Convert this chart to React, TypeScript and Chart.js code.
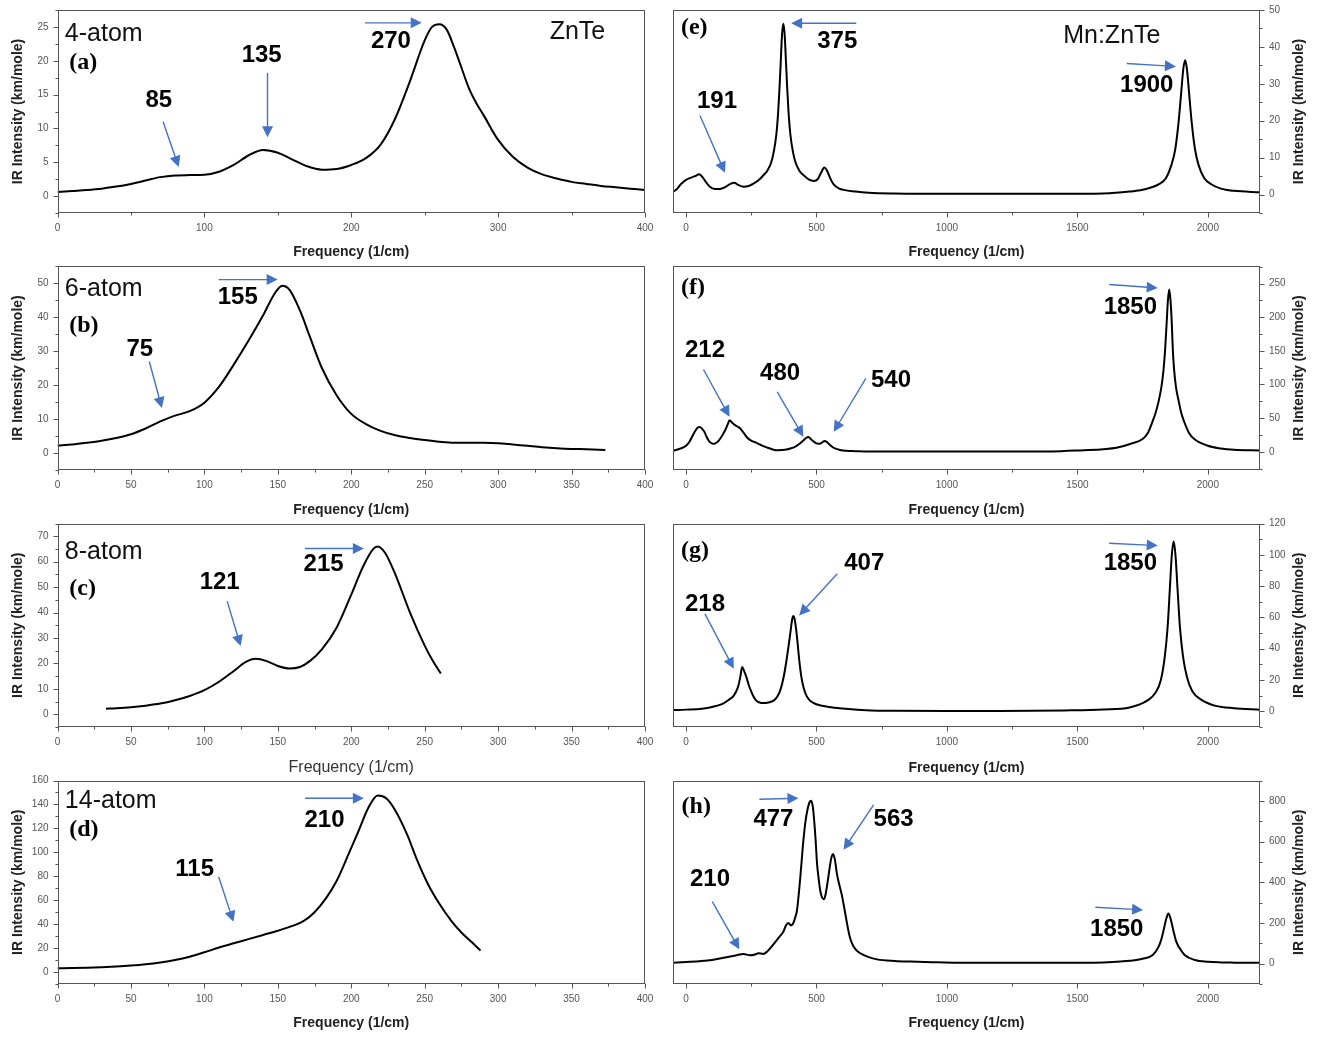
import { useEffect, useRef } from "react";
import { Chart, registerables } from "chart.js";

Chart.register(...registerables);

// ---------------- data (frequency in 1/cm, IR intensity in km/mole) ----------------
const freqA = [0, 10, 20, 30, 40, 50, 60, 70, 80, 90, 100, 110, 120, 130, 140, 150, 160, 170, 180, 190, 200, 210, 220, 230, 240, 250, 255, 260, 265, 270, 275, 280, 285, 290, 300, 310, 320, 330, 340, 350, 360, 370, 380, 390, 400];
const intA = [0.6, 0.75, 0.9, 1.1, 1.4, 1.8, 2.3, 2.8, 3.05, 3.1, 3.15, 3.6, 4.6, 6.0, 6.8, 6.4, 5.4, 4.4, 3.9, 4.0, 4.6, 5.6, 7.6, 11.5, 17, 23, 25, 25.4, 24.6, 22, 19, 16, 13.8, 12, 8.3, 5.8, 4.2, 3.2, 2.6, 2.1, 1.8, 1.5, 1.3, 1.1, 0.9];

const freqB = [0, 10, 20, 30, 40, 50, 60, 70, 80, 90, 100, 110, 120, 130, 140, 148, 153, 158, 165, 172, 180, 190, 200, 210, 220, 230, 240, 250, 260, 270, 280, 290, 300, 310, 320, 330, 340, 350, 360, 373];
const intB = [2.2, 2.5, 3.0, 3.6, 4.4, 5.5, 7.2, 9.3, 11.0, 12.3, 14.8, 19.5, 26, 33, 40.5, 47, 49.2, 48, 42, 34, 25, 17, 11.5, 8.5, 6.5, 5.2, 4.4, 3.8, 3.3, 3.0, 3.0, 3.0, 2.9, 2.5, 2.1, 1.7, 1.4, 1.2, 1.1, 0.9];

const freqC = [33, 40, 50, 60, 70, 80, 90, 100, 110, 120, 128, 135, 142, 150, 158, 165, 172, 180, 190, 200, 208, 215, 218, 223, 230, 240, 250, 255, 261];
const intC = [2.2, 2.4, 2.8, 3.4, 4.2, 5.5, 7.2, 9.5, 12.8, 17, 20.5, 21.8, 21, 19, 18, 18.6, 21, 25.5, 34, 47, 58, 65, 66, 63.5, 55, 40, 27, 21.5, 16];

const freqD = [0, 10, 20, 30, 40, 50, 60, 70, 80, 90, 100, 110, 120, 130, 140, 150, 160, 168, 175, 183, 190, 198, 205, 212, 218, 224, 230, 238, 245, 252, 260, 268, 275, 282, 288];
const intD = [3.2, 3.3, 3.6, 4.0, 4.6, 5.4, 6.5, 8.0, 10, 12.8, 16.5, 20.5, 24, 27.5, 31, 34.5, 38.5, 43, 50, 62, 76, 98, 118, 138, 147.5, 145, 135, 115, 93, 74, 57, 43, 33, 25, 18];

const freqE = [-50, -35, -20, 0, 20, 35, 50, 60, 75, 90, 110, 130, 150, 170, 185, 200, 220, 240, 260, 280, 300, 311, 326, 336, 346, 353, 358, 363, 368, 373, 378, 383, 388, 393, 400, 410, 420, 435, 453, 470, 490, 505, 518, 530, 540, 552, 565, 585, 610, 650, 700, 800, 1000, 1200, 1400, 1600, 1700, 1750, 1813, 1840, 1860, 1875, 1888, 1898, 1906, 1913, 1920, 1928, 1938, 1951, 1965, 1986, 2013, 2050, 2100, 2200];
const intE = [0.7, 1.5, 2.8, 4.0, 4.6, 5.0, 5.5, 5.0, 3.5, 2.2, 1.5, 1.5, 2.0, 2.9, 3.2, 2.6, 2.1, 2.3, 3.0, 4.0, 5.5, 6.4, 8.6, 11.5, 16.2, 22.2, 28.5, 36, 43.4, 46.3, 43.4, 36, 28.5, 22.2, 16.2, 11.5, 8.6, 6.4, 5.1, 4.1, 3.7, 4.2, 6, 7.3, 6.5, 4.5, 2.8, 1.7, 1.2, 0.8, 0.5, 0.3, 0.2, 0.2, 0.2, 0.3, 0.8, 1.3, 2.8, 4.5, 7.9, 12.2, 19.7, 27.7, 34, 36.4, 34, 27.7, 19.7, 12.2, 7.9, 4.5, 2.8, 1.6, 1.0, 0.6];

const freqF = [-50, -35, -20, 0, 13, 25, 37, 45, 53, 62, 70, 78, 86, 95, 107, 116, 126, 138, 150, 160, 167, 175, 183, 195, 207, 215, 223, 235, 248, 260, 272, 288, 304, 325, 345, 365, 385, 400, 417, 435, 450, 460, 469, 478, 490, 500, 510, 520, 531, 540, 547, 560, 571, 590, 612, 650, 700, 900, 1200, 1400, 1525, 1600, 1650, 1705, 1750, 1770, 1788, 1800, 1812, 1822, 1830, 1836, 1842, 1847, 1852, 1857, 1862, 1866, 1871, 1878, 1888, 1898, 1909, 1928, 1948, 2000, 2050, 2100, 2200];
const intF = [1.5, 3, 5, 9, 15, 24, 32, 36, 37, 34, 30, 23, 17, 13.5, 12, 13.5, 17, 24, 32, 41, 47, 44, 41, 38, 35, 31, 27, 21, 17, 15, 13, 10, 7.4, 4.5, 2.5, 2.8, 3.5, 5, 7.4, 12, 17, 20.5, 22, 19, 15, 12.5, 12, 13.5, 16, 14.5, 12, 7.5, 5, 2.8, 1.5, 1, 0.5, 0.3, 0.3, 0.5, 2.5, 4, 6, 12, 19, 28, 45, 58, 76, 96, 121, 150, 190, 225, 241, 225, 190, 150, 121, 96, 76, 58, 45, 28, 19, 9, 5, 3, 2];

const freqG = [-50, 0, 61, 100, 142, 165, 183, 199, 208, 215, 222, 231, 240, 248, 260, 272, 288, 304, 320, 337, 350, 361, 373, 385, 394, 401, 407, 411, 416, 421, 428, 434, 442, 450, 460, 474, 500, 547, 600, 709, 800, 1000, 1200, 1450, 1600, 1700, 1769, 1800, 1820, 1835, 1846, 1855, 1862, 1869, 1876, 1884, 1893, 1905, 1920, 1940, 1979, 2030, 2100, 2200];
const intG = [0.8, 1.1, 1.7, 2.8, 4.9, 7.5, 10, 15.5, 22, 28.3, 26, 22, 17, 13.4, 9, 6.4, 5.4, 5.3, 5.8, 7, 9.5, 13.4, 21, 32.5, 43, 51.7, 59, 60.9, 59, 53.8, 43, 32.5, 22, 15.5, 10.5, 7, 4.5, 2.8, 1.8, 0.6, 0.4, 0.3, 0.3, 0.6, 1.2, 2.5, 7, 12, 20, 35, 54, 80, 100, 108.7, 100, 78, 54, 35, 22, 13, 7, 3.5, 2, 1];

const freqH = [-50, 0, 50, 100, 150, 190, 220, 245, 265, 277, 296, 310, 322, 335, 348, 360, 373, 384, 392, 402, 410, 418, 425, 437, 450, 458, 466, 473, 480, 486, 491, 497, 502, 508, 514, 520, 527, 533, 540, 547, 553, 558, 563, 570, 578, 587, 597, 607, 617, 626, 636, 650, 668, 700, 732, 800, 860, 950, 1026, 1200, 1400, 1600, 1700, 1750, 1790, 1810, 1820, 1830, 1840, 1849, 1858, 1868, 1878, 1890, 1910, 1950, 2000, 2050, 2100, 2200];
const intH = [5, 8, 12, 18, 30, 40, 48, 41, 45, 51, 48, 58, 75, 95, 116, 135, 157, 190, 200, 188, 196, 225, 260, 411, 608, 700, 760, 792, 801, 770, 706, 600, 493, 420, 362, 330, 316, 330, 379, 440, 493, 525, 539, 515, 444, 390, 338, 270, 198, 140, 100, 70, 51, 32, 21, 13, 10, 7, 5, 4, 4, 6, 14, 24, 44, 80, 112, 162, 217, 247, 217, 162, 112, 80, 44, 18, 9, 6, 5, 4];

// ---------------- tick labels ----------------
const xTicksA = [0, 100, 200, 300, 400];
const xTicksSmall = [0, 50, 100, 150, 200, 250, 300, 350, 400];
const xTicksMn = [0, 500, 1000, 1500, 2000];
const yTicksA = [0, 5, 10, 15, 20, 25];
const yTicksB = [0, 10, 20, 30, 40, 50];
const yTicksC = [0, 10, 20, 30, 40, 50, 60, 70];
const yTicksD = [0, 20, 40, 60, 80, 100, 120, 140, 160];
const yTicksE = [0, 10, 20, 30, 40, 50];
const yTicksF = [0, 50, 100, 150, 200, 250];
const yTicksG = [0, 20, 40, 60, 80, 100, 120];
const yTicksH = [0, 200, 400, 600, 800];

const X_TITLE = "Frequency (1/cm)";
const Y_TITLE = "IR Intensity (km/mole)";

// ---------------- styling ----------------
const SANS = "'Liberation Sans', Arial, Helvetica, sans-serif";
const TICK_FAMILY = "'Liberation Sans Narrow', 'Liberation Sans', Arial, sans-serif";
const SERIF = "'Liberation Serif', 'Times New Roman', serif";
const BLUE = "#4472C4";
const FRAME = "#555555";

type Note = { text: string; x: number; y: number; kind: "num" | "name" | "tag"; align?: CanvasTextAlign };
type Arrow = { from: [number, number]; to: [number, number] };

type PanelSpec = {
  key: string;
  col: 0 | 1;
  row: number;
  xs: number[];
  ys: number[];
  xMin: number; xMax: number; xMajor: number[]; xMinor: number;
  yMin: number; yMax: number; yMajor: number[]; yMinor: number;
  xTitleBold: boolean;
  notes: Note[];
  arrows: Arrow[];
};

const ROWS = [
  { top: 10, bottom: 213, titleY: 252 },
  { top: 266, bottom: 470, titleY: 510 },
  { top: 523.5, bottom: 727, titleY: 768 },
  { top: 780.5, bottom: 984, titleY: 1023 },
];
const COLS = [
  { canvasLeft: 0, canvasWidth: 660, padLeft: 0, axisW: 57.5, padRight: 15 },
  { canvasLeft: 660, canvasWidth: 661, padLeft: 13, axisW: 61, padRight: 0 },
];

const PANELS: PanelSpec[] = [
  {
    key: "a", col: 0, row: 0, xs: freqA, ys: intA,
    xMin: 0, xMax: 400, xMajor: xTicksA, xMinor: 50,
    yMin: -2.5, yMax: 27.5, yMajor: yTicksA, yMinor: 2.5, xTitleBold: true,
    notes: [
      { text: "4-atom", x: 5, y: 24, kind: "name", align: "left" },
      { text: "(a)", x: 8, y: 19.7, kind: "tag", align: "left" },
      { text: "85", x: 69, y: 14.1, kind: "num" },
      { text: "135", x: 139, y: 20.8, kind: "num" },
      { text: "270", x: 227, y: 22.9, kind: "num" },
      { text: "ZnTe", x: 354, y: 24.2, kind: "name" },
    ],
    arrows: [
      { from: [71.9, 11], to: [82.5, 4.3] },
      { from: [143, 18.2], to: [143, 8.7] },
      { from: [209.4, 25.6], to: [248, 25.6] },
    ],
  },
  {
    key: "b", col: 0, row: 1, xs: freqB, ys: intB,
    xMin: 0, xMax: 400, xMajor: xTicksSmall, xMinor: 25,
    yMin: -5, yMax: 55, yMajor: yTicksB, yMinor: 5, xTitleBold: true,
    notes: [
      { text: "6-atom", x: 5, y: 48.3, kind: "name", align: "left" },
      { text: "(b)", x: 8, y: 37.3, kind: "tag", align: "left" },
      { text: "75", x: 56, y: 30.5, kind: "num" },
      { text: "155", x: 122.7, y: 45.8, kind: "num" },
    ],
    arrows: [
      { from: [62.5, 26.9], to: [71.1, 13.2] },
      { from: [109.7, 51], to: [149.9, 51] },
    ],
  },
  {
    key: "c", col: 0, row: 2, xs: freqC, ys: intC,
    xMin: 0, xMax: 400, xMajor: xTicksSmall, xMinor: 25,
    yMin: -5, yMax: 75, yMajor: yTicksC, yMinor: 5, xTitleBold: false,
    notes: [
      { text: "8-atom", x: 5, y: 63.9, kind: "name", align: "left" },
      { text: "(c)", x: 8, y: 49.5, kind: "tag", align: "left" },
      { text: "121", x: 110.4, y: 52, kind: "num" },
      { text: "215", x: 181.2, y: 58.9, kind: "num" },
    ],
    arrows: [
      { from: [115.5, 44.5], to: [124.7, 26.8] },
      { from: [168.5, 65.2], to: [208.6, 65.2] },
    ],
  },
  {
    key: "d", col: 0, row: 3, xs: freqD, ys: intD,
    xMin: 0, xMax: 400, xMajor: xTicksSmall, xMinor: 25,
    yMin: -10, yMax: 160, yMajor: yTicksD, yMinor: 10, xTitleBold: true,
    notes: [
      { text: "14-atom", x: 5, y: 143, kind: "name", align: "left" },
      { text: "(d)", x: 8, y: 119, kind: "tag", align: "left" },
      { text: "115", x: 93.4, y: 86, kind: "num" },
      { text: "210", x: 181.8, y: 127, kind: "num" },
    ],
    arrows: [
      { from: [109.7, 79.6], to: [119.8, 41.9] },
      { from: [168.5, 145.2], to: [208.6, 145.2] },
    ],
  },
  {
    key: "e", col: 1, row: 0, xs: freqE, ys: intE,
    xMin: -50, xMax: 2200, xMajor: xTicksMn, xMinor: 250,
    yMin: -5, yMax: 50, yMajor: yTicksE, yMinor: 5, xTitleBold: true,
    notes: [
      { text: "(e)", x: -19.6, y: 45.2, kind: "tag", align: "left" },
      { text: "375", x: 579.5, y: 41.4, kind: "num" },
      { text: "Mn:ZnTe", x: 1632, y: 42.8, kind: "name" },
      { text: "191", x: 118.7, y: 25.2, kind: "num" },
      { text: "1900", x: 1766, y: 29.5, kind: "num" },
    ],
    arrows: [
      { from: [652.5, 46.4], to: [402.8, 46.4] },
      { from: [53.4, 21.4], to: [149.2, 5.9] },
      { from: [1689.5, 35.5], to: [1877.7, 34.7] },
    ],
  },
  {
    key: "f", col: 1, row: 1, xs: freqF, ys: intF,
    xMin: -50, xMax: 2200, xMajor: xTicksMn, xMinor: 250,
    yMin: -27, yMax: 276, yMajor: yTicksF, yMinor: 25, xTitleBold: true,
    notes: [
      { text: "(f)", x: -19.6, y: 243.8, kind: "tag", align: "left" },
      { text: "212", x: 72.6, y: 151, kind: "num" },
      { text: "480", x: 360.6, y: 116.1, kind: "num" },
      { text: "540", x: 785.5, y: 106.4, kind: "num" },
      { text: "1850", x: 1703, y: 215, kind: "num" },
    ],
    arrows: [
      { from: [66.8, 122.3], to: [166.7, 52] },
      { from: [349.5, 89], to: [449.7, 22.3] },
      { from: [689.3, 109], to: [566, 29.7] },
      { from: [1622, 248.5], to: [1808, 243.5] },
    ],
  },
  {
    key: "g", col: 1, row: 2, xs: freqG, ys: intG,
    xMin: -50, xMax: 2200, xMajor: xTicksMn, xMinor: 250,
    yMin: -10, yMax: 120, yMajor: yTicksG, yMinor: 10, xTitleBold: true,
    notes: [
      { text: "(g)", x: -19.6, y: 102.7, kind: "tag", align: "left" },
      { text: "218", x: 72.6, y: 68.3, kind: "num" },
      { text: "407", x: 683.2, y: 94.4, kind: "num" },
      { text: "1850", x: 1703, y: 94.3, kind: "num" },
    ],
    arrows: [
      { from: [72.5, 62.3], to: [182.8, 27.2] },
      { from: [579.5, 87.9], to: [433.6, 61.3] },
      { from: [1622, 107.4], to: [1808, 105.9] },
    ],
  },
  {
    key: "h", col: 1, row: 3, xs: freqH, ys: intH,
    xMin: -50, xMax: 2200, xMajor: xTicksMn, xMinor: 250,
    yMin: -100, yMax: 900, yMajor: yTicksH, yMinor: 100, xTitleBold: true,
    notes: [
      { text: "(h)", x: -17, y: 770, kind: "tag", align: "left" },
      { text: "477", x: 334.9, y: 711, kind: "num" },
      { text: "563", x: 795.7, y: 711, kind: "num" },
      { text: "210", x: 91.8, y: 416.4, kind: "num" },
      { text: "1850", x: 1651, y: 169, kind: "num" },
    ],
    arrows: [
      { from: [281.1, 808], to: [430.9, 813] },
      { from: [718.9, 780], to: [603.7, 559.5] },
      { from: [100.6, 304.8], to: [204.3, 70.8] },
      { from: [1569, 277], to: [1752, 264] },
    ],
  },
];

function buildTicks(min: number, max: number, majors: number[], step: number) {
  const set = new Set<number>();
  majors.forEach((m) => { if (m >= min - 1e-9 && m <= max + 1e-9) set.add(m); });
  const start = Math.ceil(min / step - 1e-9) * step;
  for (let v = start; v <= max + 1e-9; v += step) set.add(Math.round(v * 1000) / 1000);
  return Array.from(set).sort((a, b) => a - b);
}

const isMajor = (v: number, majors: number[]) => majors.some((m) => Math.abs(m - v) < 1e-6);

function drawArrow(ctx: CanvasRenderingContext2D, x1: number, y1: number, x2: number, y2: number) {
  const ang = Math.atan2(y2 - y1, x2 - x1);
  const headL = 11;
  const headW = 5.5;
  const c = Math.cos(ang), s = Math.sin(ang);
  const bx = x2 - headL * c, by = y2 - headL * s;
  ctx.strokeStyle = BLUE;
  ctx.fillStyle = BLUE;
  ctx.lineWidth = 1.4;
  ctx.beginPath();
  ctx.moveTo(x1, y1);
  ctx.lineTo(bx + c, by + s);
  ctx.stroke();
  ctx.beginPath();
  ctx.moveTo(x2, y2);
  ctx.lineTo(bx + headW * s, by - headW * c);
  ctx.lineTo(bx - headW * s, by + headW * c);
  ctx.closePath();
  ctx.fill();
}

function PanelChart({ spec }: { spec: PanelSpec }) {
  const ref = useRef<HTMLCanvasElement | null>(null);
  const row = ROWS[spec.row];
  const col = COLS[spec.col];
  const titleLH = spec.xTitleBold ? 14 * 1.2 : 16 * 1.2;
  const canvasTop = Math.floor(row.top - 16);
  const canvasBottom = Math.ceil(row.titleY + 14);
  const canvasH = canvasBottom - canvasTop;
  const padTop = row.top - canvasTop;
  const padBottom = canvasBottom - (row.titleY + titleLH / 2);
  const xAxisH = row.titleY + titleLH / 2 - row.bottom;

  useEffect(() => {
    const canvas = ref.current;
    if (!canvas) return;
    const xTicks = buildTicks(spec.xMin, spec.xMax, spec.xMajor, spec.xMinor);
    const yTicks = buildTicks(spec.yMin, spec.yMax, spec.yMajor, spec.yMinor);
    const right = spec.col === 1;

    const decor = {
      id: "decor" + spec.key,
      afterDraw(chart: any) {
        const { ctx, chartArea: a } = chart;
        const sx = chart.scales.x;
        const sy = chart.scales.y;
        ctx.save();
        const L = Math.round(a.left) + 0.5;
        const T = Math.round(a.top) + 0.5;
        const R = Math.round(a.right) - 0.5;
        const B = Math.round(a.bottom) - 0.5;
        ctx.strokeStyle = FRAME;
        ctx.lineWidth = 1;
        ctx.strokeRect(L, T, R - L, B - T);
        ctx.beginPath();
        xTicks.forEach((v) => {
          const p = Math.round(sx.getPixelForValue(v)) + 0.5;
          const len = isMajor(v, spec.xMajor) ? 5 : 3;
          ctx.moveTo(p, B);
          ctx.lineTo(p, B + len);
        });
        yTicks.forEach((v) => {
          const p = Math.round(sy.getPixelForValue(v)) + 0.5;
          const len = isMajor(v, spec.yMajor) ? 5 : 3;
          if (right) { ctx.moveTo(R, p); ctx.lineTo(R + len, p); }
          else { ctx.moveTo(L, p); ctx.lineTo(L - len, p); }
        });
        ctx.stroke();

        if (right) {
          ctx.save();
          ctx.translate(1299 - col.canvasLeft, (a.top + a.bottom) / 2);
          ctx.rotate(-Math.PI / 2);
          ctx.font = `bold 14px ${SANS}`;
          ctx.fillStyle = "#222";
          ctx.textAlign = "center";
          ctx.textBaseline = "middle";
          ctx.fillText(Y_TITLE, 0, 0);
          ctx.restore();
        }

        spec.notes.forEach((n) => {
          const px = sx.getPixelForValue(n.x);
          const py = sy.getPixelForValue(n.y);
          if (n.kind === "num") { ctx.font = `bold 24px ${SANS}`; ctx.fillStyle = "#000"; }
          else if (n.kind === "name") { ctx.font = `25px ${SANS}`; ctx.fillStyle = "#111"; }
          else { ctx.font = `bold 24px ${SERIF}`; ctx.fillStyle = "#000"; }
          ctx.textAlign = n.align || "center";
          ctx.textBaseline = "middle";
          ctx.fillText(n.text, px, py);
        });

        spec.arrows.forEach((ar) => {
          drawArrow(
            ctx,
            sx.getPixelForValue(ar.from[0]), sy.getPixelForValue(ar.from[1]),
            sx.getPixelForValue(ar.to[0]), sy.getPixelForValue(ar.to[1])
          );
        });
        ctx.restore();
      },
    };

    const tickFont = { family: TICK_FAMILY, size: 10 };
    const chart = new Chart(canvas, {
      type: "line",
      data: {
        datasets: [
          {
            data: spec.xs.map((x, i) => ({ x, y: spec.ys[i] })),
            borderColor: "#000",
            borderWidth: 2,
            pointRadius: 0,
            cubicInterpolationMode: "monotone",
            fill: false,
          },
        ],
      },
      options: {
        animation: false,
        responsive: false,
        devicePixelRatio: 1,
        events: [],
        layout: {
          padding: { top: padTop, bottom: padBottom, left: col.padLeft, right: col.padRight },
        },
        plugins: { legend: { display: false }, tooltip: { enabled: false }, title: { display: false } },
        scales: {
          x: {
            type: "linear",
            position: "bottom",
            min: spec.xMin,
            max: spec.xMax,
            afterBuildTicks: (s: any) => { s.ticks = xTicks.map((v) => ({ value: v })); },
            afterFit: (s: any) => {
              s.height = xAxisH;
              s.paddingLeft = 0; s.paddingRight = 0; s.paddingTop = 0; s.paddingBottom = 0;
            },
            ticks: {
              autoSkip: false, maxRotation: 0, minRotation: 0, padding: 4,
              color: "#555", font: tickFont,
              callback: (v: any) => (isMajor(Number(v), spec.xMajor) ? String(v) : ""),
            },
            grid: { display: true, drawOnChartArea: false, drawTicks: true, tickLength: 5, color: "rgba(0,0,0,0)" },
            border: { display: false },
            title: {
              display: true,
              text: X_TITLE,
              color: spec.xTitleBold ? "#222" : "#333",
              font: spec.xTitleBold ? { family: SANS, size: 14, weight: "bold" } : { family: SANS, size: 16, weight: "normal" },
              padding: { top: 0, bottom: 0 },
            },
          },
          y: {
            type: "linear",
            position: right ? "right" : "left",
            min: spec.yMin,
            max: spec.yMax,
            afterBuildTicks: (s: any) => { s.ticks = yTicks.map((v) => ({ value: v })); },
            afterFit: (s: any) => {
              s.width = col.axisW;
              s.paddingLeft = 0; s.paddingRight = 0; s.paddingTop = 0; s.paddingBottom = 0;
            },
            ticks: {
              autoSkip: false, padding: 4,
              color: "#555", font: tickFont,
              callback: (v: any) => (isMajor(Number(v), spec.yMajor) ? String(v) : ""),
            },
            grid: { display: true, drawOnChartArea: false, drawTicks: true, tickLength: 5, color: "rgba(0,0,0,0)" },
            border: { display: false },
            title: {
              display: !right,
              text: Y_TITLE,
              color: "#222",
              font: { family: SANS, size: 14, weight: "bold" },
              padding: { top: 10, bottom: 0 },
            },
          },
        },
      } as any,
      plugins: [decor],
    });
    return () => chart.destroy();
  }, [spec]);

  return (
    <canvas
      ref={ref}
      width={col.canvasWidth}
      height={canvasH}
      style={{
        position: "absolute",
        left: col.canvasLeft,
        top: canvasTop,
        width: col.canvasWidth,
        height: canvasH,
      }}
    />
  );
}

export default function App() {
  return (
    <div
      style={{
        position: "absolute",
        left: 0,
        top: 0,
        width: 1321,
        height: 1037,
        background: "#ffffff",
        overflow: "hidden",
      }}
    >
      {PANELS.map((p) => (
        <PanelChart key={p.key} spec={p} />
      ))}
    </div>
  );
}
